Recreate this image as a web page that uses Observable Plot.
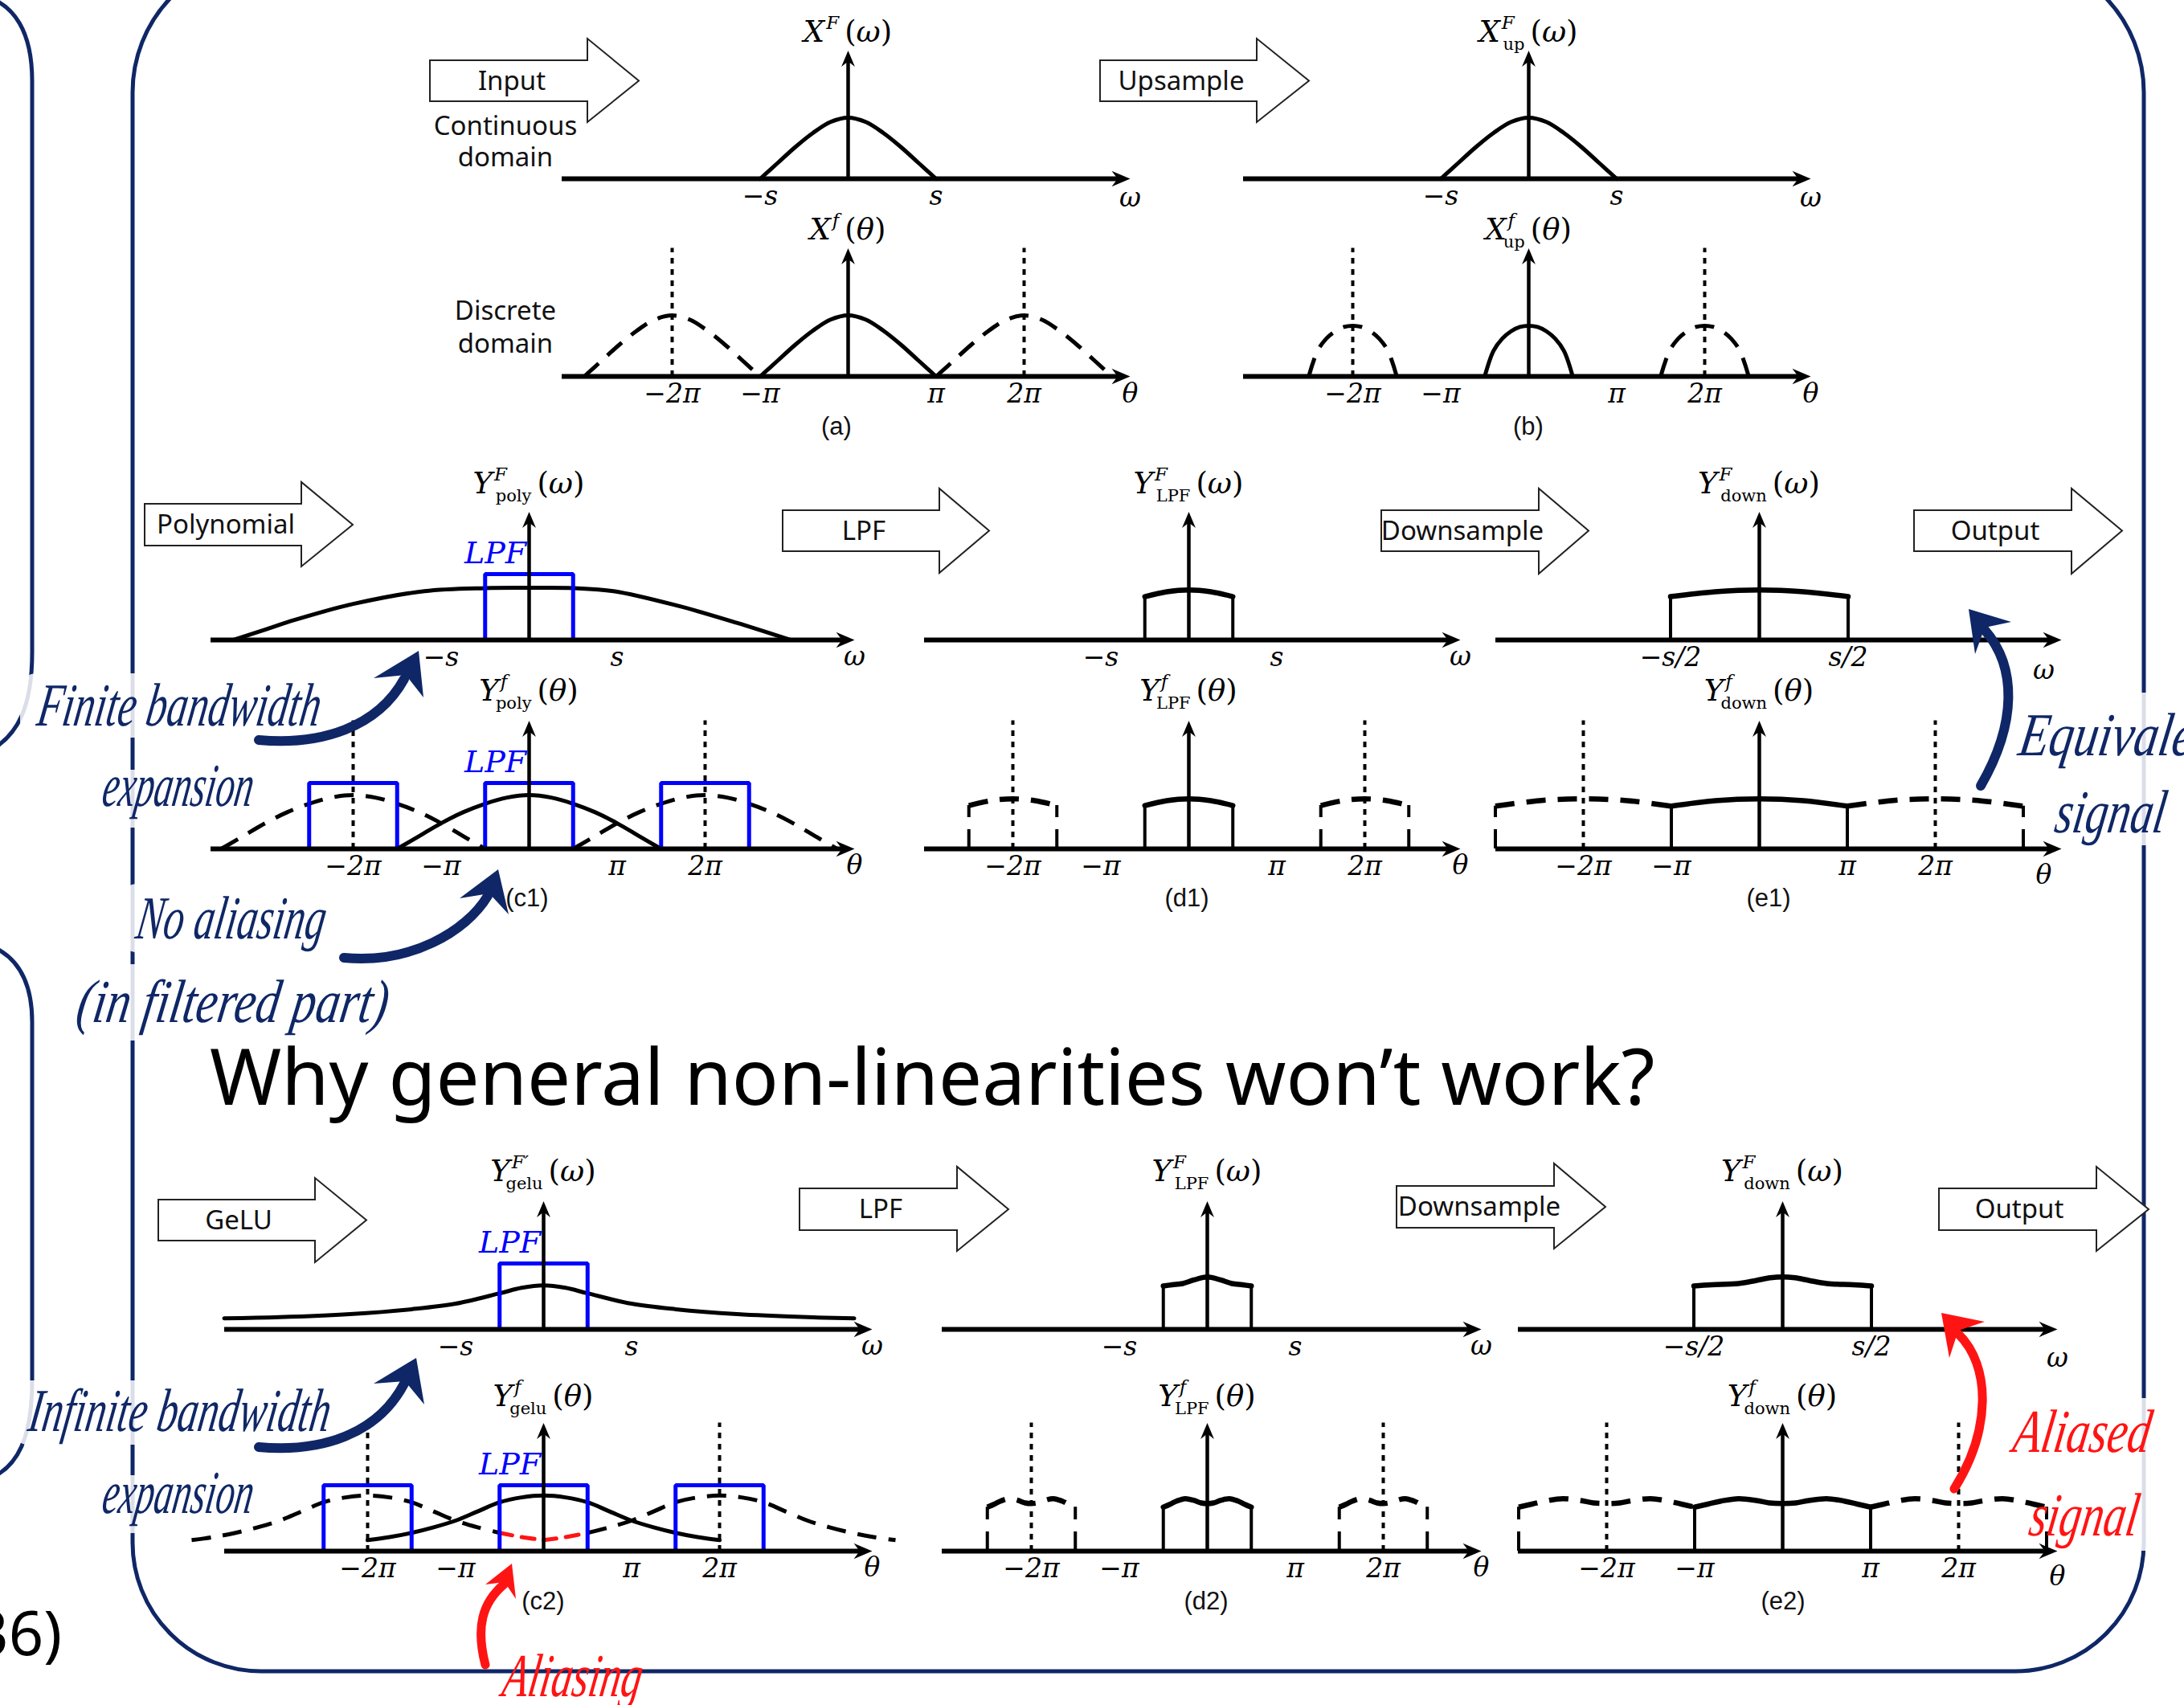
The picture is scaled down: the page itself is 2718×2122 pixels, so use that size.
<!DOCTYPE html>
<html>
<head>
<meta charset="utf-8">
<script src="https://cdn.jsdelivr.net/npm/d3@7"></script>
<script src="https://cdn.jsdelivr.net/npm/@observablehq/plot@0.6"></script>
<style>
html, body { margin:0; padding:0; background:#fff; }
#page { position:relative; width:2718px; height:2122px; overflow:hidden; background:#fff; }
#page > svg { position:absolute; }
</style>
</head>
<body>
<div id="page"></div>
<script>
// ================= DATA =================
// tick values (θ in units of π, ω in units of s) and their labels
const thetaTickValues = [-2, -1, 1, 2];
const thetaTickLabels = ["−2π", "−π", "π", "2π"];
const omegaTickValues = [-1, 1];
const omegaTickLabels = ["−s", "s"];
const halfTickValues = [-0.5, 0.5];
const halfTickLabels = ["−s/2", "s/2"];
const replicaCenters = [-2, 2];       // spectral copies at ±2π
const lpfCenters = [-2, 0, 2];        // LPF pass-bands drawn in the discrete domain
const lpfCutoff = 0.5;                // ±π/2 (±s/2)
const lpfGain = 1.08;
const axisHeight = 2.1;

// (a)/(b) input spectrum
const inputX = [-1, -0.8, -0.6, -0.4, -0.2, 0, 0.2, 0.4, 0.6, 0.8, 1];
const inputY = [0, 0.26, 0.52, 0.75, 0.93, 1, 0.93, 0.75, 0.52, 0.26, 0];
// (b) upsampled discrete spectrum
const upsampledX = [-0.5, -0.4, -0.3, -0.2, -0.1, 0, 0.1, 0.2, 0.3, 0.4, 0.5];
const upsampledY = [0, 0.42, 0.62, 0.74, 0.81, 0.83, 0.81, 0.74, 0.62, 0.42, 0];
// (c1) polynomial output
const polyContX = [-3.36, -3.0, -2.66, -2.0, -1.19, -0.5, 0, 0.5, 0.96, 1.69, 2.36, 2.97];
const polyContY = [0, 0.17, 0.33, 0.59, 0.8, 0.85, 0.855, 0.85, 0.8, 0.56, 0.28, 0];
const polyDiscX = [-1.5, -1.25, -1, -0.75, -0.5, -0.25, 0, 0.25, 0.5, 0.75, 1, 1.25, 1.5];
const polyDiscY = [0, 0.21, 0.42, 0.6, 0.74, 0.84, 0.88, 0.84, 0.74, 0.6, 0.42, 0.21, 0];
// (d1)/(e1) filtered and downsampled
const polyLpfX = [-0.5, -0.25, 0, 0.25, 0.5];
const polyLpfY = [0.71, 0.79, 0.82, 0.79, 0.71];
const polyDownX = [-1, -0.5, 0, 0.5, 1];
const polyDownY = [0.7, 0.79, 0.82, 0.79, 0.7];
// (c2) GeLU output
const geluContX = [-3.63, -3, -2.2, -1.5, -1, -0.5, -0.25, 0, 0.25, 0.5, 1, 1.5, 2.2, 3, 3.53];
const geluContY = [0.18, 0.2, 0.25, 0.33, 0.42, 0.59, 0.68, 0.72, 0.68, 0.59, 0.42, 0.33, 0.25, 0.2, 0.18];
const geluDiscX = [-2, -1.75, -1.5, -1.25, -1, -0.75, -0.5, -0.25, 0, 0.25, 0.5, 0.75, 1, 1.25, 1.5, 1.75, 2];
const geluDiscY = [0.18, 0.23, 0.3, 0.39, 0.5, 0.65, 0.8, 0.88, 0.91, 0.88, 0.8, 0.65, 0.5, 0.39, 0.3, 0.23, 0.18];
// (d2)/(e2)
const geluLpfX = [-0.5, -0.4, -0.28, -0.15, 0, 0.15, 0.28, 0.4, 0.5];
const geluLpfY = [0.71, 0.73, 0.75, 0.81, 0.86, 0.81, 0.75, 0.73, 0.71];
const geluLpfDiscX = [-0.5, -0.42, -0.35, -0.25, -0.15, -0.07, 0, 0.07, 0.15, 0.25, 0.35, 0.42, 0.5];
const geluLpfDiscY = [0.72, 0.77, 0.82, 0.86, 0.83, 0.79, 0.78, 0.79, 0.83, 0.86, 0.82, 0.77, 0.72];
const geluDownX = [-0.5, -0.4, -0.25, -0.15, -0.07, 0, 0.07, 0.15, 0.25, 0.4, 0.5];
const geluDownY = [0.71, 0.73, 0.75, 0.8, 0.845, 0.86, 0.845, 0.8, 0.75, 0.73, 0.71];
const geluDownDiscX = [-1, -0.85, -0.7, -0.5, -0.3, -0.15, 0, 0.15, 0.3, 0.5, 0.7, 0.85, 1];
const geluDownDiscY = [0.72, 0.77, 0.82, 0.86, 0.83, 0.79, 0.78, 0.79, 0.83, 0.86, 0.82, 0.77, 0.72];

// texts
const stepLabels = ["Input", "Upsample", "Polynomial", "LPF", "Downsample", "Output", "GeLU", "LPF", "Downsample", "Output"];
const panelLetters = ["(a)", "(b)", "(c1)", "(d1)", "(e1)", "(c2)", "(d2)", "(e2)"];
const headline = "Why general non-linearities won’t work?";

// ================= STYLE / LAYOUT =================
const NAVY = "#0f2766", RED = "#ff1414", BLUE = "#0000ff";
const MATH = "'DejaVu Serif', 'Liberation Serif', serif";
const SANS = "'Noto Sans', 'Open Sans', sans-serif";
const LSANS = "'Liberation Sans', 'DejaVu Sans', sans-serif";
const HAND = "'Liberation Serif', 'DejaVu Serif', serif";
const DASH = "24,15", DOT = "7,7";
const UY = 76, KPI = 109.5;

const layout = {
  aU: {cx:1055, ay:222, xl:699, xt:1406, tb:170, vdy:24},
  aL: {cx:1055, ay:468, xl:699, xt:1406, tb:170, vdy:22},
  bU: {cx:1902, ay:222, xl:1547, xt:2253, tb:170, vdy:24},
  bL: {cx:1902, ay:468, xl:1547, xt:2253, tb:170, vdy:22},
  c1U: {cx:658, ay:796, xl:262, xt:1063, tb:182},
  c1L: {cx:658, ay:1056, xl:262, xt:1063, tb:184},
  d1U: {cx:1479, ay:796, xl:1150, xt:1817, tb:182},
  d1L: {cx:1479, ay:1056, xl:1150, xt:1817, tb:184},
  e1U: {cx:2189, ay:796, xl:1861, xt:2565, tb:182, k:221, vdy:38, vdx:-22},
  e1L: {cx:2189, ay:1056, xl:1861, xt:2565, tb:184, vdy:33, vdx:-22},
  c2U: {cx:676, ay:1654, xl:279, xt:1085, tb:184},
  c2L: {cx:676, ay:1930, xl:279, xt:1085, tb:180},
  d2U: {cx:1502, ay:1654, xl:1172, xt:1843, tb:184},
  d2L: {cx:1502, ay:1930, xl:1172, xt:1843, tb:180},
  e2U: {cx:2218, ay:1654, xl:1889, xt:2560, tb:184, k:221, vdy:36},
  e2L: {cx:2218, ay:1930, xl:1889, xt:2560, tb:180, vdy:32}
};

const content = {
  aU: {title:["X","F","","ω"], ticks:"omega", v:"ω", solid:[inputX, inputY]},
  aL: {title:["X","f","","θ"], ticks:"theta", v:"θ", solid:[inputX, inputY], copies:true, dotted:true},
  bU: {title:["X","F","up","ω"], ticks:"omega", v:"ω", solid:[inputX, inputY]},
  bL: {title:["X","f","up","θ"], ticks:"theta", v:"θ", solid:[upsampledX, upsampledY], copies:true, dotted:true},
  c1U: {title:["Y","F","poly","ω"], ticks:"omega", v:"ω", solid:[polyContX, polyContY], lpf:[0]},
  c1L: {title:["Y","f","poly","θ"], ticks:"theta", v:"θ", solid:[polyDiscX, polyDiscY], copies:true, dotted:true, lpf:lpfCenters},
  d1U: {title:["Y","F","LPF","ω"], ticks:"omega", v:"ω", rect:[polyLpfX, polyLpfY]},
  d1L: {title:["Y","f","LPF","θ"], ticks:"theta", v:"θ", rect:[polyLpfX, polyLpfY], copies:true, dotted:true},
  e1U: {title:["Y","F","down","ω"], ticks:"half", v:"ω", rect:[polyLpfX, polyLpfY]},
  e1L: {title:["Y","f","down","θ"], ticks:"theta", v:"θ", rect:[polyDownX, polyDownY], copies:true, dotted:true},
  c2U: {title:["Y","F′","gelu","ω"], ticks:"omega", v:"ω", open:[geluContX, geluContY], lpf:[0]},
  c2L: {title:["Y","f","gelu","θ"], ticks:"theta", v:"θ", open:[geluDiscX, geluDiscY], alias:true, dotted:true, lpf:lpfCenters},
  d2U: {title:["Y","F","LPF","ω"], ticks:"omega", v:"ω", rect:[geluLpfX, geluLpfY]},
  d2L: {title:["Y","f","LPF","θ"], ticks:"theta", v:"θ", rect:[geluLpfDiscX, geluLpfDiscY], copies:true, dotted:true},
  e2U: {title:["Y","F","down","ω"], ticks:"half", v:"ω", rect:[geluDownX, geluDownY]},
  e2L: {title:["Y","f","down","θ"], ticks:"theta", v:"θ", rect:[geluDownDiscX, geluDownDiscY], copies:true, dotted:true}
};

const tickSets = {
  theta: thetaTickValues.map((v, i) => ({v, label: thetaTickLabels[i]})),
  omega: omegaTickValues.map((v, i) => ({v, label: omegaTickLabels[i]})),
  half: halfTickValues.map((v, i) => ({v, label: halfTickLabels[i]}))
};

const headSymbol = {
  draw(ctx, size) {
    const r = Math.sqrt(size / Math.PI), w = r * 0.42;
    ctx.moveTo(0, 0); ctx.lineTo(w, r); ctx.lineTo(0, r * 0.68); ctx.lineTo(-w, r); ctx.closePath();
  }
};

const zip = (xs, ys, dx) => xs.map((x, i) => ({x: x + dx, y: ys[i]}));

function curveMark(pair, center, opts) {
  return Plot.line(zip(pair[0], pair[1], center), {x:"x", y:"y", stroke:"#000", strokeWidth:5, curve:"catmull-rom", strokeLinejoin:"round", ...opts});
}
function rectMarks(pair, center, opts) {
  const pts = zip(pair[0], pair[1], center);
  return [
    Plot.line(pts, {x:"x", y:"y", stroke:"#000", strokeWidth:6.5, curve:"catmull-rom", ...opts}),
    Plot.ruleX([pts[0], pts[pts.length - 1]], {x:"x", y1:0, y2:"y", stroke:"#000", strokeWidth:4, ...opts})
  ];
}

function titleMark(parts, L, PL, PT) {
  return (index, scales) => {
    const x = scales && scales.x ? scales.x(0) : L.cx - PL;
    const y = (scales && scales.y ? scales.y(0) : L.ay - PT) - L.tb;
    const t = d3.create("svg:text").attr("x", x).attr("y", y).attr("text-anchor", "middle")
      .attr("font-family", MATH).attr("font-size", 37).attr("fill", "#000");
    t.append("tspan").attr("font-style", "italic").text(parts[0]);
    t.append("tspan").attr("font-size", 23).attr("font-style", "italic").attr("dx", 2).attr("dy", -16).text(parts[1]);
    let back = 16;
    if (parts[2]) {
      const supW = parts[1].length * 23 * 0.62;
      t.append("tspan").attr("font-size", 21).attr("dx", -supW).attr("dy", 26).text(parts[2]);
      back = -10;
    }
    t.append("tspan").attr("dx", 7).attr("dy", back).text("(");
    t.append("tspan").attr("font-style", "italic").text(parts[3]);
    t.append("tspan").text(")");
    return t.node();
  };
}

function buildPanel(id) {
  const L = layout[id], c = content[id];
  const k = L.k || KPI;
  const PL = L.xl - 55, PR = L.xt + 45, PT = L.ay - 215, PB = L.ay + 45;
  const width = PR - PL, height = PB - PT;
  const xlU = (L.xl - L.cx) / k, xtU = (L.xt - L.cx) / k;
  const m = [];
  const dashed = {strokeDasharray: DASH, strokeLinecap: "butt"};

  if (c.copies) for (const cc of replicaCenters) {
    if (c.solid) m.push(curveMark(c.solid, cc, dashed));
    if (c.rect) m.push(...rectMarks(c.rect, cc, dashed));
  }
  if (c.alias) for (const cc of replicaCenters) {
    const pts = zip(c.open[0], c.open[1], cc);
    const outside = pts.filter(p => Math.abs(p.x) >= lpfCutoff - 1e-9);
    const inside = pts.filter(p => Math.abs(p.x) <= lpfCutoff + 1e-9);
    m.push(Plot.line(outside, {x:"x", y:"y", stroke:"#000", strokeWidth:5, curve:"catmull-rom", ...dashed}));
    m.push(Plot.line(inside, {x:"x", y:"y", stroke:RED, strokeWidth:5, curve:"catmull-rom", strokeDasharray:"16,12"}));
  }
  if (c.solid) m.push(curveMark(c.solid, 0, {strokeLinecap:"round"}));
  if (c.open) m.push(curveMark(c.open, 0, {strokeLinecap:"round"}));
  if (c.rect) m.push(...rectMarks(c.rect, 0, {}));
  if (c.lpf) {
    for (const cc of c.lpf) {
      const box = [{x: cc - lpfCutoff, y: 0}, {x: cc - lpfCutoff, y: lpfGain}, {x: cc + lpfCutoff, y: lpfGain}, {x: cc + lpfCutoff, y: 0}];
      m.push(Plot.line(box, {x:"x", y:"y", stroke:BLUE, strokeWidth:5, strokeLinejoin:"miter"}));
    }
    m.push(Plot.text([{x: 0, y: lpfGain}], {x:"x", y:"y", text: () => "LPF", dx: -42, dy: -26, fill: BLUE,
      fontFamily: MATH, fontStyle: "italic", fontSize: 38}));
  }
  if (c.dotted) m.push(Plot.ruleX(replicaCenters, {x: d => d, y1: 0, y2: axisHeight, stroke:"#000", strokeWidth:4, strokeDasharray: DOT}));
  // axes
  m.push(Plot.ruleY([0], {x1: xlU, x2: xtU - 14 / k, stroke:"#000", strokeWidth:6}));
  m.push(Plot.dot([{x: xtU, y: 0}], {x:"x", y:"y", symbol: headSymbol, r: 23, rotate: 90, fill:"#000", stroke:"none"}));
  m.push(Plot.ruleX([0], {y1: 0, y2: axisHeight - 12 / UY, stroke:"#000", strokeWidth:4.5}));
  m.push(Plot.dot([{x: 0, y: axisHeight}], {x:"x", y:"y", symbol: headSymbol, r: 20, rotate: 0, fill:"#000", stroke:"none"}));
  // tick labels and variable label
  m.push(Plot.text(tickSets[c.ticks], {x:"v", y: 0, text:"label", dy: 22, fontFamily: MATH, fontStyle:"italic", fontSize: 33, fill:"#000"}));
  m.push(Plot.text([{x: xtU, y: 0}], {x:"x", y:"y", text: () => c.v, dx: L.vdx || 0, dy: L.vdy || 21, fontFamily: MATH, fontStyle:"italic", fontSize: 33, fill:"#000"}));
  m.push(titleMark(c.title, L, PL, PT));

  const svg = Plot.plot({
    width, height,
    marginLeft: 0, marginRight: 0, marginTop: 0, marginBottom: 45,
    x: {domain: [(PL - L.cx) / k, (PR - L.cx) / k], axis: null},
    y: {domain: [0, (L.ay - PT) / UY], axis: null},
    style: {background: "transparent", overflow: "visible"},
    marks: m
  });
  svg.style.left = PL + "px";
  svg.style.top = PT + "px";
  svg.style.position = "absolute";
  return svg;
}

// ================= BACKGROUND LAYER =================
const page = document.getElementById("page");
const bg = d3.select(page).append("svg").attr("width", 2718).attr("height", 2122).style("left", "0px").style("top", "0px");

// frames
bg.append("path").attr("fill", "none").attr("stroke", NAVY).attr("stroke-width", 5)
  .attr("d", "M165,115 L165,1920 A160,160 0 0 0 325,2080 L2508,2080 A160,160 0 0 0 2668,1920 L2668,115 A170,170 0 0 0 2498,-55 L335,-55 A170,170 0 0 0 165,115 Z");
bg.append("path").attr("fill", "none").attr("stroke", NAVY).attr("stroke-width", 5)
  .attr("d", "M-20,-5 C18,5 40,40 40,101 L40,812 C40,880 22,915 -12,934");
bg.append("path").attr("fill", "none").attr("stroke", NAVY).attr("stroke-width", 5)
  .attr("d", "M-12,1177 C20,1190 40,1220 40,1272 L40,1718 C40,1790 22,1825 -12,1840");

// white translucent patches behind handwriting
[[25,838,395,80],[110,958,220,72],[150,1100,270,85],[75,1200,420,95],[15,1718,410,80],[110,1836,220,72],[2495,862,223,190],[2490,1740,200,190]]
  .forEach(([x,y,w,h]) => bg.append("rect").attr("x", x).attr("y", y).attr("width", w).attr("height", h)
    .attr("rx", 20).attr("fill", "#fff").attr("opacity", 0.85));

// block arrows
const blockArrows = [
  [535,731,75,126,48,152,795, 637,101],
  [1369,1564,75,126,48,152,1629, 1470,101],
  [180,375,627,679,600,705,439, 281,653],
  [974,1169,635,686,608,713,1231, 1075,661],
  [1719,1915,635,686,608,714,1977, 1820,661],
  [2382,2578,635,686,608,714,2641, 2483,661],
  [197,392,1493,1544,1466,1571,456, 297,1519],
  [995,1191,1479,1531,1452,1557,1255, 1096,1505],
  [1738,1934,1476,1528,1448,1554,1998, 1841,1502],
  [2413,2609,1479,1531,1452,1557,2674, 2513,1505]
];
blockArrows.forEach((b, i) => {
  const [x1, x2, y1, y2, h1, h2, tip, tx, ty] = b;
  const my = (y1 + y2) / 2;
  bg.append("path").attr("fill", "#fff").attr("stroke", "#222").attr("stroke-width", 2)
    .attr("d", `M${x1},${y1} L${x2},${y1} L${x2},${h1} L${tip},${my} L${x2},${h2} L${x2},${y2} L${x1},${y2} Z`);
  bg.append("text").attr("x", tx).attr("y", ty + 11).attr("text-anchor", "middle")
    .attr("font-family", SANS).attr("font-size", 33).attr("fill", "#111").text(stepLabels[i]);
});

// side labels
[["Continuous", 629, 168], ["domain", 629, 207], ["Discrete", 629, 398], ["domain", 629, 439]].forEach(([t, x, y]) =>
  bg.append("text").attr("x", x).attr("y", y).attr("text-anchor", "middle").attr("font-family", SANS)
    .attr("font-size", 33).attr("fill", "#111").text(t));

// panel letters
[[1041,530],[1902,530],[656,1117],[1477,1117],[2201,1117],[676,1992],[1501,1992],[2219,1992]].forEach(([x, y], i) =>
  bg.append("text").attr("x", x).attr("y", y + 11).attr("text-anchor", "middle").attr("font-family", LSANS)
    .attr("font-size", 31).attr("fill", "#111").text(panelLetters[i]));

// headline & cut-off page number
bg.append("text").attr("x", 261).attr("y", 1375).attr("font-family", SANS).attr("font-size", 96).attr("fill", "#000").text(headline);
bg.append("text").attr("x", 77).attr("y", 2060).attr("text-anchor", "end").attr("font-family", SANS).attr("font-size", 76).attr("fill", "#000").text("36)");

// ================= PANELS =================
Object.keys(layout).forEach(id => page.appendChild(buildPanel(id)));

// ================= FOREGROUND (annotations) =================
const fg = d3.select(page).append("svg").attr("width", 2718).attr("height", 2122).style("left", "0px").style("top", "0px");

function hand(text, x1, x2, baseline, color) {
  fg.append("text").attr("transform", `translate(${x1},${baseline}) skewX(-9)`).attr("x", 0).attr("y", 0)
    .attr("font-family", HAND).attr("font-style", "italic")
    .attr("font-size", 76).attr("fill", color).attr("textLength", x2 - x1).attr("lengthAdjust", "spacingAndGlyphs").text(text);
}
hand("Finite bandwidth", 44, 396, 903, NAVY);
hand("expansion", 125, 312, 1003, NAVY);
hand("No aliasing", 167, 402, 1168, NAVY);
hand("(in filtered part)", 93, 480, 1272, NAVY);
hand("Infinite bandwidth", 33, 408, 1781, NAVY);
hand("expansion", 125, 312, 1883, NAVY);
hand("Equivalent", 2510, 2775, 940, NAVY);
hand("signal", 2555, 2692, 1036, NAVY);
hand("Aliased", 2503, 2673, 1807, RED);
hand("signal", 2523, 2658, 1911, RED);
hand("Aliasing", 623, 796, 2111, RED);

function curvedArrow(d, head, color, w) {
  fg.append("path").attr("d", d).attr("fill", "none").attr("stroke", color).attr("stroke-width", w).attr("stroke-linecap", "round");
  fg.append("path").attr("d", "M" + head.map(p => p.join(",")).join("L") + "Z").attr("fill", color);
}
curvedArrow("M322,921 C400,928 470,905 503,845", [[521,810],[465,844],[505,840],[527,868]], NAVY, 12);
curvedArrow("M428,1192 C510,1200 580,1160 607,1115", [[620,1082],[572,1118],[609,1112],[633,1138]], NAVY, 12);
curvedArrow("M322,1801 C400,1808 470,1785 503,1722", [[518,1690],[465,1722],[504,1719],[528,1748]], NAVY, 12);
curvedArrow("M2465,978 C2510,900 2510,830 2470,784", [[2450,758],[2503,774],[2470,781],[2458,814]], NAVY, 12);
curvedArrow("M2432,1853 C2478,1780 2478,1700 2437,1660", [[2416,1634],[2470,1645],[2437,1656],[2426,1690]], RED, 11);
curvedArrow("M604,2072 C592,2025 600,1995 627,1972", [[637,1946],[604,1972],[628,1969],[642,1990]], RED, 11);
</script>
</body>
</html>
